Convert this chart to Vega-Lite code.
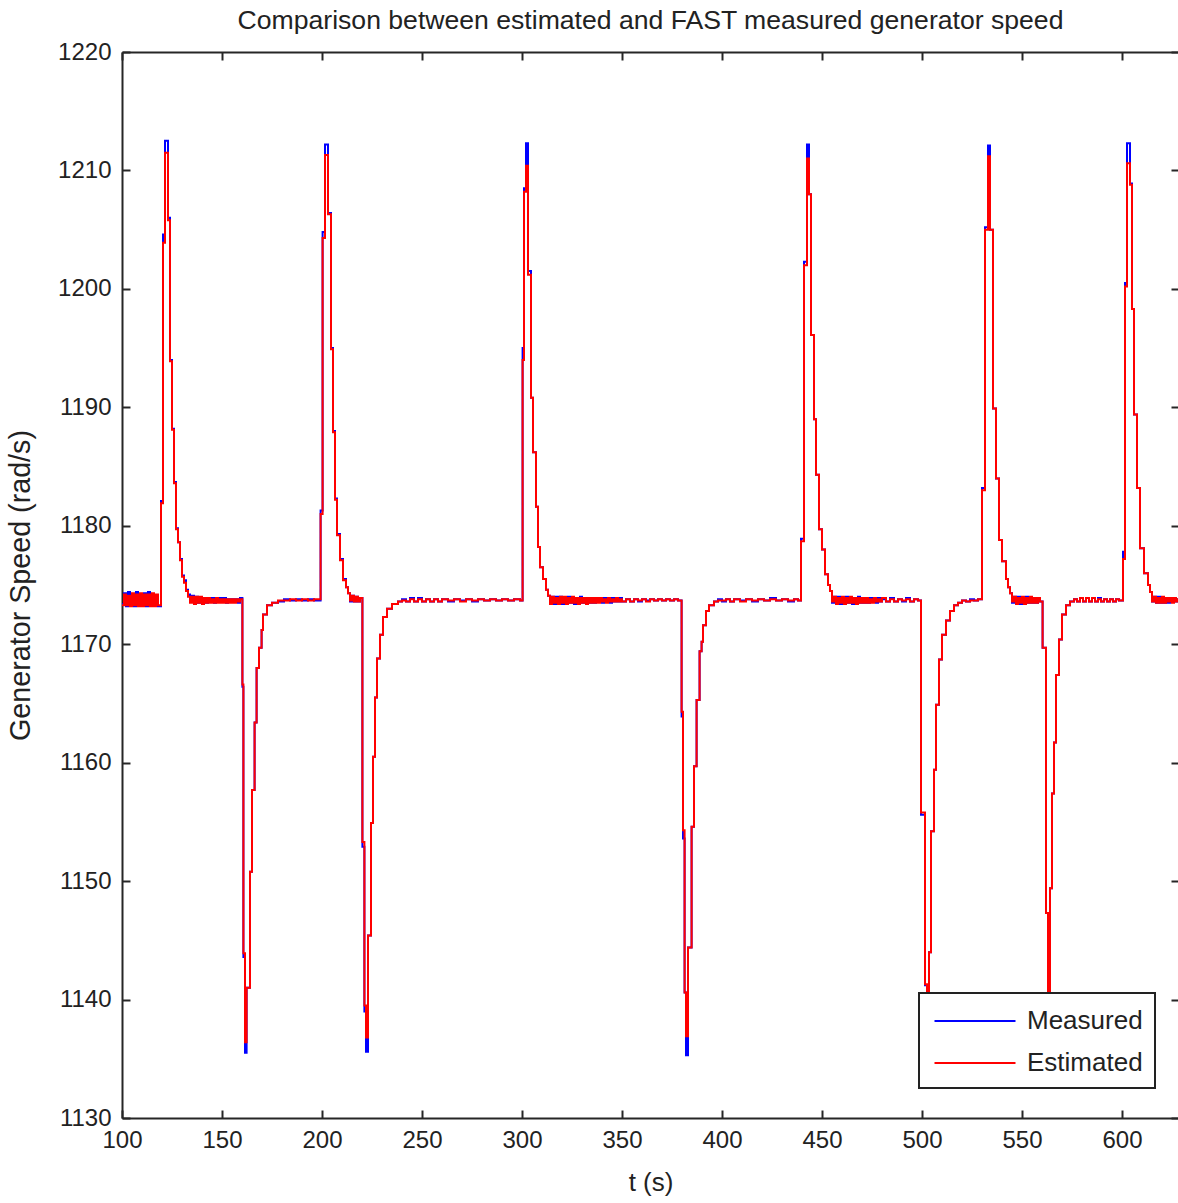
{
"$schema": "https://vega.github.io/schema/vega-lite/v6.json",
"width": 1057, "height": 1066,
"autosize": {"type": "none"},
"padding": {"left": 122, "top": 52, "right": 0, "bottom": 85},
"background": "white",
"title": {"text": "Comparison between estimated and FAST measured generator speed", "font": "Liberation Sans", "fontSize": 26.6, "fontWeight": "normal", "color": "#222222", "anchor": "middle", "offset": 5},
"data": {"values": [
{"t":100,"Measured":1173.4,"Estimated":1173.3},{"t":101,"Measured":1174.3,"Estimated":1174.2},{"t":102,"Measured":1173.2,"Estimated":1173.3},{"t":103,"Measured":1174.4,"Estimated":1174.1},{"t":104,"Measured":1173.3,"Estimated":1173.2},{"t":105,"Measured":1174.2,"Estimated":1174.3},{"t":106,"Measured":1173.2,"Estimated":1173.3},{"t":107,"Measured":1174.4,"Estimated":1174.2},{"t":108,"Measured":1173.3,"Estimated":1173.2},{"t":109,"Measured":1174.1,"Estimated":1174.3},{"t":110,"Measured":1173.3,"Estimated":1173.2},{"t":111,"Measured":1174.3,"Estimated":1174.2},{"t":112,"Measured":1173.2,"Estimated":1173.3},{"t":113,"Measured":1174.4,"Estimated":1174.2},{"t":114,"Measured":1173.4,"Estimated":1173.2},{"t":115,"Measured":1174.2,"Estimated":1174.3},{"t":116,"Measured":1173.3,"Estimated":1173.2},{"t":117,"Measured":1174.1,"Estimated":1174.2},{"t":118,"Measured":1173.2,"Estimated":1173.3},
{"t":119.5,"Measured":1182.1,"Estimated":1181.9},{"t":120.5,"Measured":1204.6,"Estimated":1203.9},{"t":121.5,"Measured":1212.5,"Estimated":1211.5},{"t":123,"Measured":1206.0,"Estimated":1205.8},{"t":124,"Measured":1194.0,"Estimated":1193.9},{"t":125,"Measured":1188.2,"Estimated":1188.1},{"t":126,"Measured":1183.7,"Estimated":1183.6},{"t":127,"Measured":1179.8,"Estimated":1179.7},{"t":128,"Measured":1178.6,"Estimated":1178.6},{"t":129,"Measured":1177.2,"Estimated":1177.1},{"t":130,"Measured":1175.8,"Estimated":1175.7},{"t":131,"Measured":1175.4,"Estimated":1175.2},{"t":132,"Measured":1174.6,"Estimated":1174.5},{"t":133,"Measured":1174.2,"Estimated":1174.0},
{"t":134,"Measured":1173.6,"Estimated":1173.5},{"t":135,"Measured":1174.1,"Estimated":1174.0},{"t":136,"Measured":1173.5,"Estimated":1173.4},{"t":137,"Measured":1174.0,"Estimated":1174.0},{"t":138,"Measured":1173.5,"Estimated":1173.5},{"t":139,"Measured":1173.9,"Estimated":1174.0},{"t":140,"Measured":1173.5,"Estimated":1173.4},{"t":141,"Measured":1173.9,"Estimated":1173.9},{"t":142,"Measured":1173.5,"Estimated":1173.5},{"t":143,"Measured":1173.9,"Estimated":1173.9},{"t":144,"Measured":1173.6,"Estimated":1173.5},{"t":145,"Measured":1173.9,"Estimated":1173.8},{"t":146,"Measured":1173.5,"Estimated":1173.5},{"t":147,"Measured":1173.9,"Estimated":1173.9},{"t":148,"Measured":1173.6,"Estimated":1173.5},{"t":149,"Measured":1173.9,"Estimated":1173.8},{"t":150,"Measured":1173.6,"Estimated":1173.5},{"t":151,"Measured":1173.9,"Estimated":1173.8},{"t":152,"Measured":1173.5,"Estimated":1173.5},{"t":153,"Measured":1173.8,"Estimated":1173.8},{"t":154,"Measured":1173.6,"Estimated":1173.5},{"t":155,"Measured":1173.8,"Estimated":1173.8},{"t":156,"Measured":1173.6,"Estimated":1173.5},{"t":157,"Measured":1173.8,"Estimated":1173.8},{"t":158,"Measured":1173.5,"Estimated":1173.6},{"t":159,"Measured":1173.9,"Estimated":1173.8},
{"t":160.2,"Measured":1166.4,"Estimated":1166.6},{"t":160.7,"Measured":1143.6,"Estimated":1143.9},{"t":161.5,"Measured":1135.5,"Estimated":1136.4},{"t":162.3,"Measured":1141.0,"Estimated":1141.0},{"t":164,"Measured":1150.8,"Estimated":1150.8},{"t":165,"Measured":1157.7,"Estimated":1157.7},{"t":166.3,"Measured":1163.4,"Estimated":1163.4},{"t":167.3,"Measured":1168.0,"Estimated":1168.0},{"t":168.5,"Measured":1169.7,"Estimated":1169.7},{"t":169.8,"Measured":1171.2,"Estimated":1171.2},{"t":170.5,"Measured":1172.5,"Estimated":1172.5},{"t":172.5,"Measured":1173.3,"Estimated":1173.3},{"t":175,"Measured":1173.5,"Estimated":1173.5},{"t":178,"Measured":1173.6,"Estimated":1173.7},{"t":181,"Measured":1173.8,"Estimated":1173.7},{"t":184,"Measured":1173.7,"Estimated":1173.8},{"t":187,"Measured":1173.8,"Estimated":1173.7},{"t":190,"Measured":1173.7,"Estimated":1173.8},{"t":193,"Measured":1173.8,"Estimated":1173.7},{"t":196,"Measured":1173.7,"Estimated":1173.8},
{"t":199.3,"Measured":1181.3,"Estimated":1181.0},{"t":200.3,"Measured":1204.8,"Estimated":1204.3},{"t":201.5,"Measured":1212.2,"Estimated":1211.3},{"t":203,"Measured":1206.4,"Estimated":1206.3},{"t":204.5,"Measured":1195.0,"Estimated":1194.9},{"t":205.5,"Measured":1188.0,"Estimated":1187.9},{"t":206.5,"Measured":1182.3,"Estimated":1182.2},{"t":207.5,"Measured":1179.3,"Estimated":1179.2},{"t":209,"Measured":1177.2,"Estimated":1177.1},{"t":210.5,"Measured":1175.5,"Estimated":1175.4},{"t":212,"Measured":1174.8,"Estimated":1174.8},{"t":213,"Measured":1174.3,"Estimated":1174.3},{"t":214,"Measured":1173.6,"Estimated":1173.7},{"t":215,"Measured":1174.1,"Estimated":1174.1},{"t":216,"Measured":1173.6,"Estimated":1173.6},{"t":217,"Measured":1174.0,"Estimated":1174.0},{"t":218,"Measured":1173.6,"Estimated":1173.6},{"t":219,"Measured":1173.9,"Estimated":1173.9},
{"t":220.2,"Measured":1152.9,"Estimated":1153.3},{"t":221.2,"Measured":1139.0,"Estimated":1139.5},{"t":222,"Measured":1135.6,"Estimated":1136.8},{"t":223,"Measured":1145.4,"Estimated":1145.4},{"t":224.5,"Measured":1154.9,"Estimated":1154.9},{"t":225.5,"Measured":1160.5,"Estimated":1160.5},{"t":226.5,"Measured":1165.5,"Estimated":1165.5},{"t":227.5,"Measured":1168.8,"Estimated":1168.8},{"t":229,"Measured":1170.8,"Estimated":1170.8},{"t":230.5,"Measured":1172.3,"Estimated":1172.3},{"t":232.5,"Measured":1173.0,"Estimated":1173.0},{"t":235,"Measured":1173.4,"Estimated":1173.4},{"t":238,"Measured":1173.6,"Estimated":1173.6},
{"t":240,"Measured":1173.8,"Estimated":1173.7},{"t":242,"Measured":1173.6,"Estimated":1173.6},{"t":244,"Measured":1173.9,"Estimated":1173.8},{"t":246,"Measured":1173.6,"Estimated":1173.6},{"t":248,"Measured":1173.9,"Estimated":1173.8},{"t":250,"Measured":1173.6,"Estimated":1173.6},{"t":252,"Measured":1173.8,"Estimated":1173.8},{"t":254,"Measured":1173.6,"Estimated":1173.6},{"t":256,"Measured":1173.8,"Estimated":1173.8},{"t":258,"Measured":1173.6,"Estimated":1173.6},{"t":260,"Measured":1173.8,"Estimated":1173.8},{"t":263,"Measured":1173.6,"Estimated":1173.7},{"t":266,"Measured":1173.8,"Estimated":1173.8},{"t":269,"Measured":1173.7,"Estimated":1173.6},{"t":272,"Measured":1173.8,"Estimated":1173.8},{"t":275,"Measured":1173.6,"Estimated":1173.7},{"t":278,"Measured":1173.8,"Estimated":1173.8},{"t":281,"Measured":1173.7,"Estimated":1173.7},{"t":284,"Measured":1173.8,"Estimated":1173.8},{"t":287,"Measured":1173.7,"Estimated":1173.7},{"t":290,"Measured":1173.8,"Estimated":1173.8},{"t":293,"Measured":1173.7,"Estimated":1173.7},{"t":296,"Measured":1173.8,"Estimated":1173.8},{"t":299,"Measured":1173.7,"Estimated":1173.7},
{"t":300.3,"Measured":1195.0,"Estimated":1194.0},{"t":301,"Measured":1208.5,"Estimated":1208.2},{"t":302,"Measured":1212.3,"Estimated":1210.4},{"t":303,"Measured":1201.5,"Estimated":1201.2},{"t":304.5,"Measured":1190.8,"Estimated":1190.8},{"t":305.5,"Measured":1186.2,"Estimated":1186.2},{"t":307,"Measured":1181.6,"Estimated":1181.6},{"t":308,"Measured":1178.2,"Estimated":1178.2},{"t":309,"Measured":1176.5,"Estimated":1176.5},{"t":310.5,"Measured":1175.5,"Estimated":1175.5},{"t":312,"Measured":1174.6,"Estimated":1174.6},{"t":313,"Measured":1174.1,"Estimated":1174.1},
{"t":314,"Measured":1173.5,"Estimated":1173.4},{"t":315,"Measured":1174.0,"Estimated":1174.0},{"t":316,"Measured":1173.4,"Estimated":1173.5},{"t":317,"Measured":1174.0,"Estimated":1173.9},{"t":318,"Measured":1173.5,"Estimated":1173.4},{"t":319,"Measured":1174.0,"Estimated":1174.0},{"t":320,"Measured":1173.4,"Estimated":1173.5},{"t":321,"Measured":1173.9,"Estimated":1174.0},{"t":322,"Measured":1173.5,"Estimated":1173.4},{"t":323,"Measured":1174.0,"Estimated":1173.9},{"t":324,"Measured":1173.5,"Estimated":1173.5},{"t":325,"Measured":1173.9,"Estimated":1174.0},{"t":326,"Measured":1173.4,"Estimated":1173.5},{"t":327,"Measured":1173.9,"Estimated":1173.9},{"t":328,"Measured":1173.5,"Estimated":1173.4},{"t":329,"Measured":1174.0,"Estimated":1173.9},{"t":330,"Measured":1173.5,"Estimated":1173.5},{"t":331,"Measured":1173.9,"Estimated":1173.9},{"t":332,"Measured":1173.5,"Estimated":1173.4},{"t":333,"Measured":1173.9,"Estimated":1173.9},{"t":334,"Measured":1173.5,"Estimated":1173.5},{"t":335,"Measured":1173.9,"Estimated":1173.9},{"t":336,"Measured":1173.5,"Estimated":1173.5},{"t":337,"Measured":1173.9,"Estimated":1173.9},{"t":338,"Measured":1173.6,"Estimated":1173.5},{"t":339,"Measured":1173.9,"Estimated":1173.9},{"t":340,"Measured":1173.5,"Estimated":1173.6},{"t":341,"Measured":1173.9,"Estimated":1173.8},{"t":342,"Measured":1173.6,"Estimated":1173.5},{"t":343,"Measured":1173.8,"Estimated":1173.9},{"t":344,"Measured":1173.5,"Estimated":1173.6},{"t":345,"Measured":1173.9,"Estimated":1173.8},{"t":346,"Measured":1173.6,"Estimated":1173.6},{"t":347,"Measured":1173.8,"Estimated":1173.9},{"t":348,"Measured":1173.6,"Estimated":1173.6},{"t":349,"Measured":1173.9,"Estimated":1173.8},{"t":350,"Measured":1173.6,"Estimated":1173.6},{"t":352,"Measured":1173.8,"Estimated":1173.8},{"t":354,"Measured":1173.6,"Estimated":1173.6},{"t":356,"Measured":1173.8,"Estimated":1173.8},{"t":358,"Measured":1173.6,"Estimated":1173.7},{"t":360,"Measured":1173.8,"Estimated":1173.8},{"t":362,"Measured":1173.7,"Estimated":1173.6},{"t":364,"Measured":1173.8,"Estimated":1173.8},{"t":366,"Measured":1173.7,"Estimated":1173.7},{"t":368,"Measured":1173.8,"Estimated":1173.8},{"t":370,"Measured":1173.7,"Estimated":1173.7},{"t":372,"Measured":1173.8,"Estimated":1173.8},{"t":374,"Measured":1173.7,"Estimated":1173.7},{"t":376,"Measured":1173.8,"Estimated":1173.8},{"t":378,"Measured":1173.7,"Estimated":1173.7},
{"t":379.8,"Measured":1163.9,"Estimated":1164.3},{"t":380.5,"Measured":1153.6,"Estimated":1154.3},{"t":381.3,"Measured":1140.6,"Estimated":1140.6},{"t":382,"Measured":1135.3,"Estimated":1136.9},{"t":383,"Measured":1144.4,"Estimated":1144.4},{"t":384.8,"Measured":1154.6,"Estimated":1154.6},{"t":386,"Measured":1159.7,"Estimated":1159.7},{"t":387.3,"Measured":1165.3,"Estimated":1165.3},{"t":388.8,"Measured":1169.4,"Estimated":1169.4},{"t":389.8,"Measured":1170.2,"Estimated":1170.2},{"t":390.5,"Measured":1171.6,"Estimated":1171.6},{"t":392,"Measured":1172.8,"Estimated":1172.8},{"t":393.5,"Measured":1173.3,"Estimated":1173.3},{"t":396,"Measured":1173.6,"Estimated":1173.6},
{"t":398,"Measured":1173.8,"Estimated":1173.7},{"t":400,"Measured":1173.6,"Estimated":1173.7},{"t":402,"Measured":1173.8,"Estimated":1173.8},{"t":404,"Measured":1173.6,"Estimated":1173.6},{"t":406,"Measured":1173.8,"Estimated":1173.8},{"t":409,"Measured":1173.7,"Estimated":1173.6},{"t":412,"Measured":1173.8,"Estimated":1173.8},{"t":415,"Measured":1173.6,"Estimated":1173.7},{"t":418,"Measured":1173.8,"Estimated":1173.8},{"t":421,"Measured":1173.7,"Estimated":1173.7},{"t":424,"Measured":1173.9,"Estimated":1173.8},{"t":427,"Measured":1173.7,"Estimated":1173.7},{"t":430,"Measured":1173.8,"Estimated":1173.8},{"t":433,"Measured":1173.6,"Estimated":1173.7},{"t":436,"Measured":1173.8,"Estimated":1173.8},{"t":438,"Measured":1173.7,"Estimated":1173.7},
{"t":439.5,"Measured":1178.9,"Estimated":1178.7},{"t":441,"Measured":1202.3,"Estimated":1202.0},{"t":442.5,"Measured":1212.2,"Estimated":1211.0},{"t":443.5,"Measured":1208.0,"Estimated":1208.0},{"t":444.5,"Measured":1196.1,"Estimated":1196.1},{"t":446,"Measured":1189.0,"Estimated":1189.0},{"t":447,"Measured":1184.3,"Estimated":1184.3},{"t":448.5,"Measured":1179.7,"Estimated":1179.7},{"t":450,"Measured":1178.0,"Estimated":1178.0},{"t":451.5,"Measured":1175.9,"Estimated":1175.9},{"t":453,"Measured":1175.0,"Estimated":1175.0},{"t":454,"Measured":1174.5,"Estimated":1174.5},
{"t":455,"Measured":1173.5,"Estimated":1173.6},{"t":456,"Measured":1174.0,"Estimated":1174.0},{"t":457,"Measured":1173.5,"Estimated":1173.4},{"t":458,"Measured":1174.0,"Estimated":1173.9},{"t":459,"Measured":1173.4,"Estimated":1173.5},{"t":460,"Measured":1173.9,"Estimated":1174.0},{"t":461,"Measured":1173.5,"Estimated":1173.4},{"t":462,"Measured":1174.0,"Estimated":1173.9},{"t":463,"Measured":1173.5,"Estimated":1173.5},{"t":464,"Measured":1173.9,"Estimated":1174.0},{"t":465,"Measured":1173.4,"Estimated":1173.5},{"t":466,"Measured":1173.9,"Estimated":1173.9},{"t":467,"Measured":1173.5,"Estimated":1173.4},{"t":468,"Measured":1174.0,"Estimated":1173.9},{"t":469,"Measured":1173.5,"Estimated":1173.5},{"t":470,"Measured":1173.9,"Estimated":1173.9},{"t":471,"Measured":1173.5,"Estimated":1173.5},{"t":472,"Measured":1173.9,"Estimated":1173.9},{"t":473,"Measured":1173.5,"Estimated":1173.5},{"t":474,"Measured":1173.9,"Estimated":1173.8},{"t":475,"Measured":1173.6,"Estimated":1173.5},{"t":476,"Measured":1173.8,"Estimated":1173.9},{"t":477,"Measured":1173.5,"Estimated":1173.6},{"t":478,"Measured":1173.9,"Estimated":1173.8},{"t":479,"Measured":1173.6,"Estimated":1173.6},{"t":480,"Measured":1173.8,"Estimated":1173.9},{"t":482,"Measured":1173.6,"Estimated":1173.6},{"t":484,"Measured":1173.9,"Estimated":1173.8},{"t":486,"Measured":1173.6,"Estimated":1173.6},{"t":488,"Measured":1173.8,"Estimated":1173.8},{"t":490,"Measured":1173.6,"Estimated":1173.7},{"t":492,"Measured":1173.9,"Estimated":1173.8},{"t":494,"Measured":1173.6,"Estimated":1173.6},{"t":496,"Measured":1173.8,"Estimated":1173.8},{"t":498,"Measured":1173.7,"Estimated":1173.7},
{"t":499.5,"Measured":1155.6,"Estimated":1155.8},{"t":501.5,"Measured":1141.2,"Estimated":1141.3},{"t":502.5,"Measured":1135.8,"Estimated":1136.5},{"t":503.5,"Measured":1144.0,"Estimated":1144.0},{"t":504.5,"Measured":1154.2,"Estimated":1154.2},{"t":506,"Measured":1159.4,"Estimated":1159.4},{"t":507,"Measured":1164.9,"Estimated":1164.9},{"t":508.5,"Measured":1168.7,"Estimated":1168.7},{"t":510,"Measured":1170.8,"Estimated":1170.8},{"t":512,"Measured":1172.0,"Estimated":1172.0},{"t":514,"Measured":1172.8,"Estimated":1172.8},{"t":516,"Measured":1173.3,"Estimated":1173.3},{"t":518,"Measured":1173.5,"Estimated":1173.5},{"t":520,"Measured":1173.7,"Estimated":1173.7},{"t":522,"Measured":1173.6,"Estimated":1173.6},{"t":524,"Measured":1173.8,"Estimated":1173.7},{"t":526,"Measured":1173.7,"Estimated":1173.7},{"t":528,"Measured":1173.8,"Estimated":1173.8},
{"t":530,"Measured":1183.2,"Estimated":1183.0},{"t":531.5,"Measured":1205.2,"Estimated":1205.0},{"t":533,"Measured":1212.1,"Estimated":1211.2},{"t":534,"Measured":1205.0,"Estimated":1205.0},{"t":535.5,"Measured":1189.9,"Estimated":1189.9},{"t":537,"Measured":1184.0,"Estimated":1184.0},{"t":538.5,"Measured":1178.8,"Estimated":1178.8},{"t":540,"Measured":1177.0,"Estimated":1177.0},{"t":542,"Measured":1175.5,"Estimated":1175.5},{"t":543,"Measured":1174.8,"Estimated":1174.8},{"t":544,"Measured":1174.3,"Estimated":1174.3},
{"t":545,"Measured":1173.5,"Estimated":1173.6},{"t":546,"Measured":1174.0,"Estimated":1174.0},{"t":547,"Measured":1173.5,"Estimated":1173.4},{"t":548,"Measured":1174.0,"Estimated":1173.9},{"t":549,"Measured":1173.4,"Estimated":1173.5},{"t":550,"Measured":1173.9,"Estimated":1174.0},{"t":551,"Measured":1173.5,"Estimated":1173.4},{"t":552,"Measured":1174.0,"Estimated":1173.9},{"t":553,"Measured":1173.5,"Estimated":1173.5},{"t":554,"Measured":1173.9,"Estimated":1174.0},{"t":555,"Measured":1173.5,"Estimated":1173.5},{"t":556,"Measured":1173.9,"Estimated":1173.9},{"t":557,"Measured":1173.5,"Estimated":1173.5},{"t":558,"Measured":1173.9,"Estimated":1173.9},{"t":559,"Measured":1173.6,"Estimated":1173.6},
{"t":560.3,"Measured":1169.7,"Estimated":1169.7},{"t":562,"Measured":1147.3,"Estimated":1147.3},{"t":563,"Measured":1135.8,"Estimated":1136.6},{"t":564,"Measured":1149.4,"Estimated":1149.4},{"t":565,"Measured":1157.4,"Estimated":1157.4},{"t":566,"Measured":1161.7,"Estimated":1161.7},{"t":567,"Measured":1167.4,"Estimated":1167.4},{"t":568.5,"Measured":1170.4,"Estimated":1170.4},{"t":570,"Measured":1172.5,"Estimated":1172.5},{"t":572,"Measured":1173.3,"Estimated":1173.3},{"t":574,"Measured":1173.6,"Estimated":1173.6},
{"t":576,"Measured":1173.8,"Estimated":1173.8},{"t":577.5,"Measured":1173.6,"Estimated":1173.6},{"t":579,"Measured":1173.9,"Estimated":1173.9},{"t":580.5,"Measured":1173.6,"Estimated":1173.6},{"t":582,"Measured":1173.9,"Estimated":1173.9},{"t":583.5,"Measured":1173.6,"Estimated":1173.6},{"t":585,"Measured":1173.9,"Estimated":1173.9},{"t":586.5,"Measured":1173.6,"Estimated":1173.6},{"t":588,"Measured":1173.9,"Estimated":1173.8},{"t":589.5,"Measured":1173.6,"Estimated":1173.6},{"t":591,"Measured":1173.8,"Estimated":1173.8},{"t":592.5,"Measured":1173.6,"Estimated":1173.6},{"t":594,"Measured":1173.8,"Estimated":1173.8},{"t":595.5,"Measured":1173.6,"Estimated":1173.6},{"t":597,"Measured":1173.8,"Estimated":1173.8},{"t":598.5,"Measured":1173.7,"Estimated":1173.7},
{"t":600.5,"Measured":1177.8,"Estimated":1177.2},{"t":601.5,"Measured":1200.5,"Estimated":1200.2},{"t":602.5,"Measured":1212.3,"Estimated":1210.6},{"t":604,"Measured":1208.9,"Estimated":1208.8},{"t":605,"Measured":1198.3,"Estimated":1198.3},{"t":606,"Measured":1189.4,"Estimated":1189.4},{"t":607.5,"Measured":1183.2,"Estimated":1183.2},{"t":609,"Measured":1178.1,"Estimated":1178.1},{"t":611,"Measured":1176.0,"Estimated":1176.0},{"t":613,"Measured":1175.0,"Estimated":1175.0},{"t":614,"Measured":1174.4,"Estimated":1174.4},
{"t":615,"Measured":1173.6,"Estimated":1173.6},{"t":616,"Measured":1174.0,"Estimated":1174.0},{"t":617,"Measured":1173.5,"Estimated":1173.5},{"t":618,"Measured":1174.0,"Estimated":1173.9},{"t":619,"Measured":1173.5,"Estimated":1173.5},{"t":620,"Measured":1173.9,"Estimated":1174.0},{"t":621,"Measured":1173.5,"Estimated":1173.5},{"t":622,"Measured":1173.9,"Estimated":1173.9},{"t":623,"Measured":1173.5,"Estimated":1173.6},{"t":624,"Measured":1173.9,"Estimated":1173.9},{"t":625,"Measured":1173.6,"Estimated":1173.5},{"t":626,"Measured":1173.9,"Estimated":1173.9},{"t":627,"Measured":1173.6,"Estimated":1173.6},{"t":628,"Measured":1173.8,"Estimated":1173.8},{"t":629,"Measured":1173.7,"Estimated":1173.7}
]},
"transform": [{"fold": ["Measured", "Estimated"], "as": ["series", "speed"]}],
"layer": [
 {"mark": {"type": "line", "interpolate": "step-after", "strokeWidth": 2, "clip": true},
  "encoding": {
   "x": {"field": "t", "type": "quantitative", "scale": {"domain": [100, 628.5], "nice": false, "zero": false},
         "axis": {"orient": "bottom", "title": "t (s)", "format": "d", "values": [100,150,200,250,300,350,400,450,500,550,600], "labelPadding": 18, "titlePadding": 17, "titleFontSize": 26}},
   "y": {"field": "speed", "type": "quantitative", "scale": {"domain": [1130, 1220], "nice": false, "zero": false},
         "axis": {"orient": "left", "title": "Generator Speed (rad/s)", "format": "d", "values": [1130,1140,1150,1160,1170,1180,1190,1200,1210,1220], "labelPadding": 19, "titlePadding": 22, "titleFontSize": 28.7}},
   "color": {"field": "series", "type": "nominal", "sort": ["Measured", "Estimated"],
             "scale": {"domain": ["Measured", "Estimated"], "range": ["#0000ff", "#ff0000"]},
             "legend": {"title": null, "orient": "none", "legendX": 797, "legendY": 941, "direction": "vertical",
                        "symbolType": "M-2.7,0H2.7", "symbolSize": 900, "symbolStrokeWidth": 2, "symbolOffset": 28,
                        "labelFont": "Liberation Sans", "labelFontSize": 26, "labelColor": "#222222",
                        "fillColor": "white", "strokeColor": "#222222", "padding": 12, "rowPadding": 13, "labelOffset": 36}}
  }},
 {"mark": {"type": "point", "opacity": 0},
  "encoding": {
   "x": {"field": "t", "type": "quantitative", "axis": {"orient": "top", "title": null, "labels": false, "values": [100,150,200,250,300,350,400,450,500,550,600]}},
   "y": {"field": "speed", "type": "quantitative", "axis": {"orient": "right", "title": null, "labels": false, "values": [1130,1140,1150,1160,1170,1180,1190,1200,1210,1220]}}
  }}
],
"resolve": {"axis": {"x": "independent", "y": "independent"}},
"config": {
 "view": {"stroke": null},
 "axis": {"grid": false, "labelFlush": false, "domainColor": "#262626", "domainWidth": 2, "tickColor": "#262626", "tickWidth": 2, "tickSize": -8,
          "labelFont": "Liberation Sans", "labelFontSize": 24, "labelColor": "#222222",
          "titleFont": "Liberation Sans", "titleFontWeight": "normal", "titleColor": "#222222"},
 "legend": {"strokeWidth": 2}
}
}
